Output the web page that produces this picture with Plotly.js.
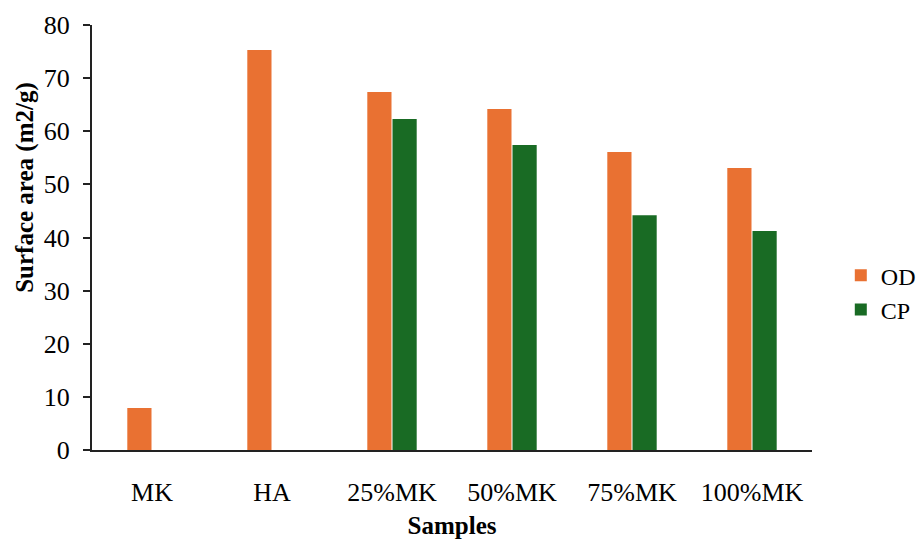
<!DOCTYPE html>
<html>
<head>
<meta charset="utf-8">
<script src="https://cdn.plot.ly/plotly-3.0.1.min.js"></script>
<style>html,body{margin:0;padding:0;background:#fff;}#chart{width:923px;height:540px;}</style>
</head>
<body>
<div id="chart"></div>
<script>
const categories = ["MK", "HA", "25%MK", "50%MK", "75%MK", "100%MK"];
const odValues = [7.9, 75.3, 67.4, 64.2, 56.1, 53.1];
const cpValues = [null, null, 62.3, 57.4, 44.2, 41.2];
const yTicks = [0, 10, 20, 30, 40, 50, 60, 70, 80];

const serif = "'Liberation Serif', 'Times New Roman', serif";

const traces = [
  {type: "bar", name: "OD", x: categories, y: odValues, marker: {color: "#E97132"}, hoverinfo: "x+y"},
  {type: "bar", name: "CP", x: categories, y: cpValues, marker: {color: "#196B24"}, hoverinfo: "x+y"}
];

const layout = {
  width: 923, height: 540,
  margin: {l: 92, r: 111, t: 25, b: 90, autoexpand: false},
  paper_bgcolor: "#fff", plot_bgcolor: "#fff",
  barmode: "group", bargap: 0.58, bargroupgap: 0.04,
  font: {family: serif, size: 26, color: "#000"},
  showlegend: true,
  legend: {x: 1.04, y: 0.37, xanchor: "left", yanchor: "middle", font: {family: serif, size: 24, color: "#000"}, tracegroupgap: 8, itemwidth: 30},
  xaxis: {
    type: "category", showline: true, linecolor: "#222", linewidth: 2,
    ticks: "", showgrid: false, zeroline: false, ticklabelstandoff: 18,
    tickfont: {family: serif, size: 26, color: "#000"},
    title: {text: "<b>Samples</b>", font: {family: serif, size: 25, color: "#000"}, standoff: 10}
  },
  yaxis: {
    range: [0, 80], tickvals: yTicks, ticktext: yTicks.map(String),
    showline: true, linecolor: "#222", linewidth: 2,
    ticks: "outside", ticklen: 7, tickwidth: 2, tickcolor: "#222",
    showgrid: false, zeroline: false, ticklabelstandoff: 8,
    tickfont: {family: serif, size: 26, color: "#000"}
  },
  annotations: [{
    text: "<b>Surface area (m2/g)</b>", textangle: -90,
    xref: "paper", yref: "paper", x: -0.093, y: 0.617,
    xanchor: "center", yanchor: "middle", showarrow: false,
    font: {family: serif, size: 25, color: "#000"}
  }]
};

Plotly.newPlot("chart", traces, layout, {displayModeBar: false});
</script>
</body>
</html>
